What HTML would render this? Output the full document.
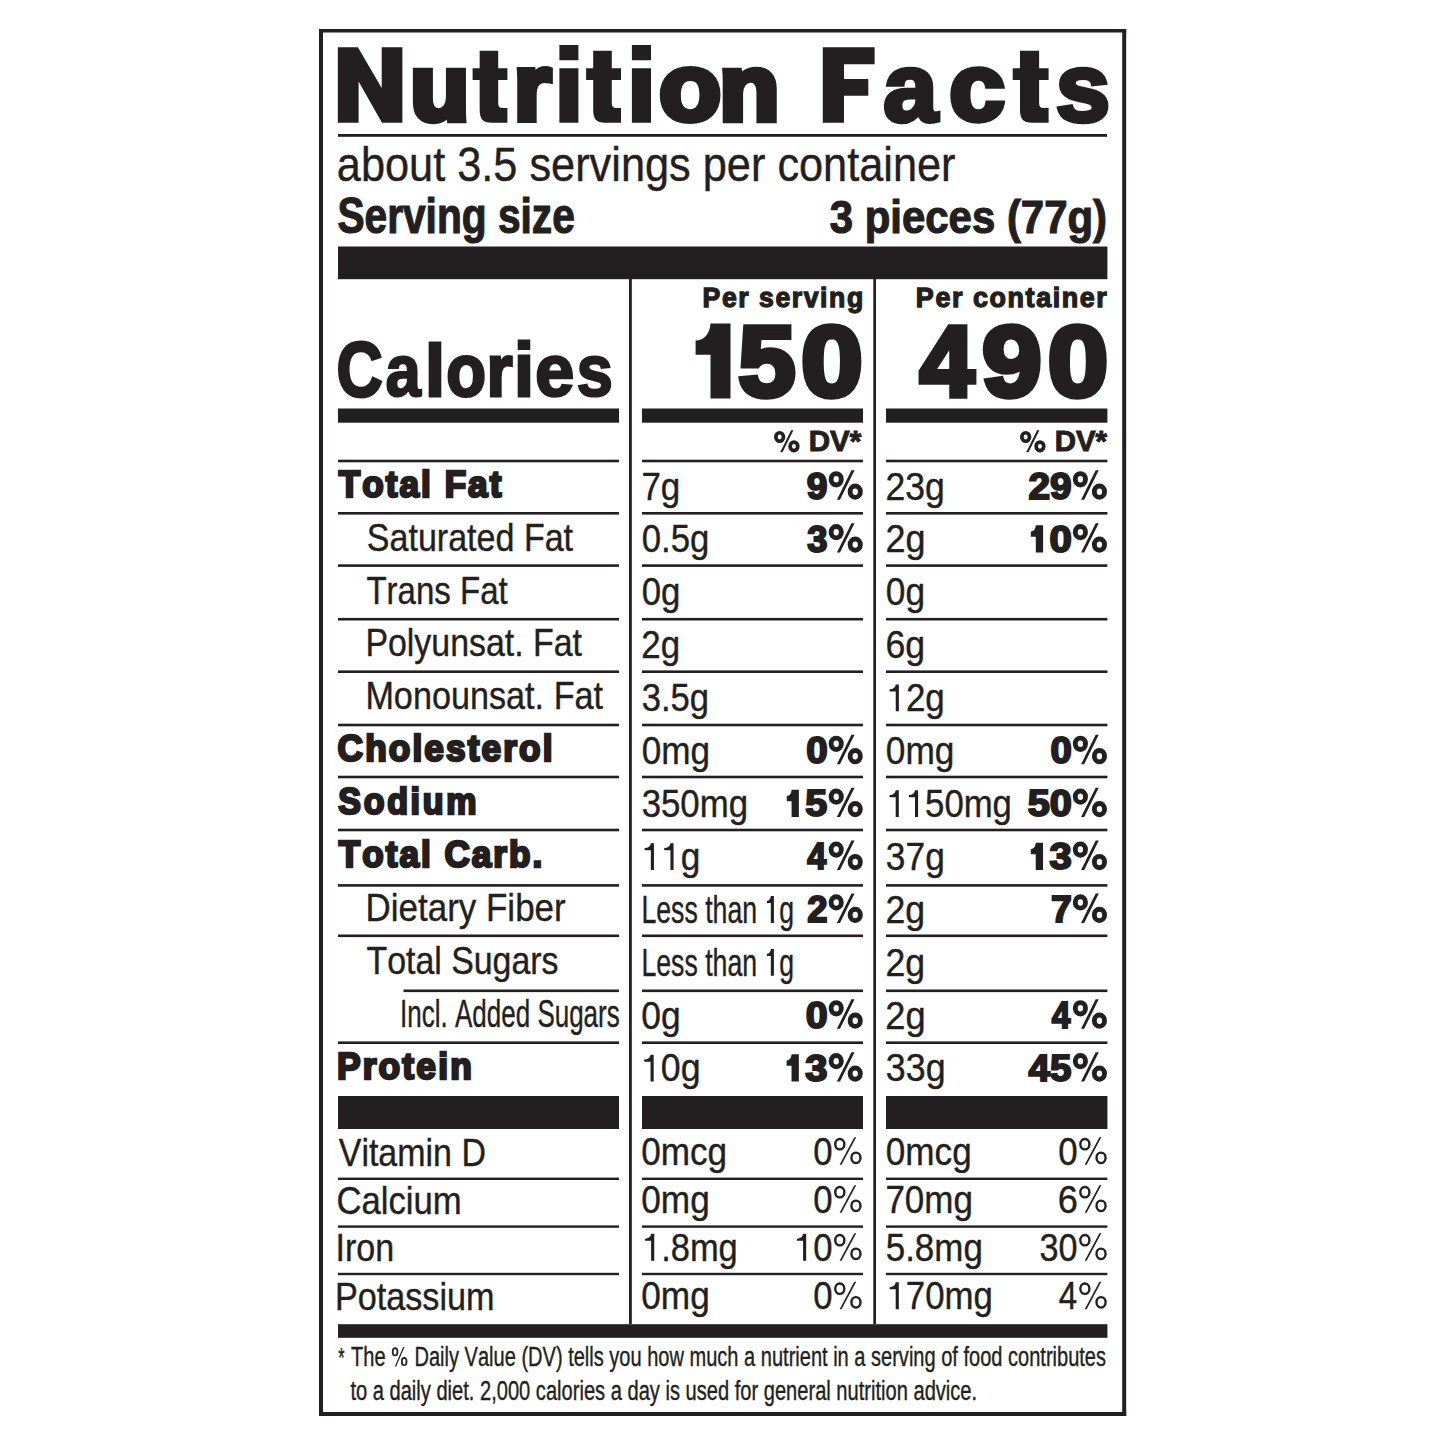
<!DOCTYPE html>
<html><head><meta charset="utf-8"><style>
html,body{margin:0;padding:0;background:#fff;width:1445px;height:1445px;overflow:hidden}
svg{display:block}
text{font-family:"Liberation Sans",sans-serif;font-kerning:none}
</style></head><body>
<svg width="1445" height="1445" viewBox="0 0 1445 1445">
<rect width="1445" height="1445" fill="#fff"/>
<g fill="#231f20">
<rect x="319" y="29" width="807.2" height="3.5"/>
<rect x="319" y="1412" width="807.2" height="4"/>
<rect x="319" y="29" width="4" height="1387"/>
<rect x="1122.2" y="29" width="4" height="1387"/>
<rect x="338" y="134" width="769" height="2.8"/>
<rect x="338" y="246.5" width="769.4" height="32.7"/>
<rect x="629" y="279" width="2.8" height="1045"/>
<rect x="873.3" y="279" width="2.7" height="1045"/>
<rect x="338" y="408.5" width="281" height="14.2"/>
<rect x="642" y="408.5" width="221" height="14.2"/>
<rect x="886" y="408.5" width="221.4" height="14.2"/>
<rect x="338" y="459.7" width="281" height="2.6"/>
<rect x="642" y="459.7" width="221" height="2.6"/>
<rect x="886" y="459.7" width="221.4" height="2.6"/>
<rect x="338" y="512" width="281" height="2.6"/>
<rect x="642" y="512" width="221" height="2.6"/>
<rect x="886" y="512" width="221.4" height="2.6"/>
<rect x="338" y="564.3" width="281" height="2.6"/>
<rect x="642" y="564.3" width="221" height="2.6"/>
<rect x="886" y="564.3" width="221.4" height="2.6"/>
<rect x="338" y="617.9" width="281" height="2.6"/>
<rect x="642" y="617.9" width="221" height="2.6"/>
<rect x="886" y="617.9" width="221.4" height="2.6"/>
<rect x="338" y="670.4" width="281" height="2.6"/>
<rect x="642" y="670.4" width="221" height="2.6"/>
<rect x="886" y="670.4" width="221.4" height="2.6"/>
<rect x="338" y="723.7" width="281" height="2.6"/>
<rect x="642" y="723.7" width="221" height="2.6"/>
<rect x="886" y="723.7" width="221.4" height="2.6"/>
<rect x="338" y="775.7" width="281" height="2.6"/>
<rect x="642" y="775.7" width="221" height="2.6"/>
<rect x="886" y="775.7" width="221.4" height="2.6"/>
<rect x="338" y="828.7" width="281" height="2.6"/>
<rect x="642" y="828.7" width="221" height="2.6"/>
<rect x="886" y="828.7" width="221.4" height="2.6"/>
<rect x="338" y="884.1" width="281" height="2.6"/>
<rect x="642" y="884.1" width="221" height="2.6"/>
<rect x="886" y="884.1" width="221.4" height="2.6"/>
<rect x="338" y="934.5" width="281" height="2.6"/>
<rect x="642" y="934.5" width="221" height="2.6"/>
<rect x="886" y="934.5" width="221.4" height="2.6"/>
<rect x="403.5" y="989.5" width="215.5" height="2.6"/>
<rect x="642" y="989.5" width="221" height="2.6"/>
<rect x="886" y="989.5" width="221.4" height="2.6"/>
<rect x="338" y="1041.4" width="281" height="2.6"/>
<rect x="642" y="1041.4" width="221" height="2.6"/>
<rect x="886" y="1041.4" width="221.4" height="2.6"/>
<rect x="338" y="1096" width="281" height="33"/>
<rect x="642" y="1096" width="221" height="33"/>
<rect x="886" y="1096" width="221.4" height="33"/>
<rect x="338" y="1177.6" width="281" height="2.4"/>
<rect x="642" y="1177.6" width="221" height="2.4"/>
<rect x="886" y="1177.6" width="221.4" height="2.4"/>
<rect x="338" y="1225.4" width="281" height="2.4"/>
<rect x="642" y="1225.4" width="221" height="2.4"/>
<rect x="886" y="1225.4" width="221.4" height="2.4"/>
<rect x="338" y="1272.8" width="281" height="2.4"/>
<rect x="642" y="1272.8" width="221" height="2.4"/>
<rect x="886" y="1272.8" width="221.4" height="2.4"/>
<rect x="338" y="1324.2" width="769.4" height="13.6"/>
<path d="M337.8 47.2H357.9L381.7 87.9V47.2H402.4V122.8H382L358.6 81.4V122.8H337.8Z"/>
<path d="M822.8 47.2H874.6V64.3H844V79.1H868.3V95.7H844V122.8H822.8Z"/>
<path d="M479.66 50.8H498.21V68.2H507.4V79.9H498.21V103.5C498.21 106.8 499.71 108.1 502.71 108.1H507.4V122.8H491.66C482.66 122.8 479.66 118.8 479.66 109.8V79.9H472.6V68.2H479.66Z"/>
<path d="M593.18 50.8H611.79V68.2H621V79.9H611.79V103.5C611.79 106.8 613.29 108.1 616.29 108.1H621V122.8H605.18C596.18 122.8 593.18 118.8 593.18 109.8V79.9H586.1V68.2H593.18Z"/>
<path d="M1019.99 50.8H1039.12V68.2H1048.6V79.9H1039.12V103.5C1039.12 106.8 1040.62 108.1 1043.62 108.1H1048.6V122.8H1031.99C1022.99 122.8 1019.99 118.8 1019.99 109.8V79.9H1012.7V68.2H1019.99Z"/>
<path d="M559.4 45.1H578.4V60.3H559.4ZM559.4 68.2H578.4V122.8H559.4Z"/>
<path d="M631.9 45.1H651V60.3H631.9ZM631.9 68.2H651V122.8H631.9Z"/>
<text x="410.25" y="119.95" font-size="92.75" font-weight="bold" textLength="59.07" lengthAdjust="spacingAndGlyphs" stroke="#231f20" stroke-width="6.5">u</text>
<text x="513.5" y="120.2" font-size="94.51" font-weight="bold" textLength="37.77" lengthAdjust="spacingAndGlyphs" stroke="#231f20" stroke-width="6">r</text>
<text x="659.02" y="120.2" font-size="94.59" font-weight="bold" textLength="62.26" lengthAdjust="spacingAndGlyphs" stroke="#231f20" stroke-width="6">o</text>
<text x="719.35" y="119.95" font-size="93.02" font-weight="bold" textLength="60.21" lengthAdjust="spacingAndGlyphs" stroke="#231f20" stroke-width="6.5">n</text>
<text x="883.19" y="120.95" font-size="96.82" font-weight="bold" textLength="54.34" lengthAdjust="spacingAndGlyphs" stroke="#231f20" stroke-width="4.5">a</text>
<text x="949.34" y="120.45" font-size="94.97" font-weight="bold" textLength="55.64" lengthAdjust="spacingAndGlyphs" stroke="#231f20" stroke-width="5.5">c</text>
<text x="1055.81" y="120.95" font-size="96.74" font-weight="bold" textLength="54.46" lengthAdjust="spacingAndGlyphs" stroke="#231f20" stroke-width="4.5">s</text>
<text x="336.86" y="181" font-size="48.11" textLength="108.36" lengthAdjust="spacingAndGlyphs" stroke="#231f20" stroke-width="0.4">about</text>
<text x="457.26" y="181" font-size="48.11" textLength="60.2" lengthAdjust="spacingAndGlyphs" stroke="#231f20" stroke-width="0.4">3.5</text>
<text x="529.48" y="181" font-size="48.11" textLength="161.25" lengthAdjust="spacingAndGlyphs" stroke="#231f20" stroke-width="0.4">servings</text>
<text x="702.76" y="181" font-size="48.11" textLength="62.59" lengthAdjust="spacingAndGlyphs" stroke="#231f20" stroke-width="0.4">per</text>
<text x="777.38" y="181" font-size="48.11" textLength="178.14" lengthAdjust="spacingAndGlyphs" stroke="#231f20" stroke-width="0.4">container</text>
<text x="337.43" y="233" font-size="49.13" font-weight="bold" textLength="149.19" lengthAdjust="spacingAndGlyphs" stroke="#231f20" stroke-width="1.2">Serving</text>
<text x="497.91" y="233" font-size="49.13" font-weight="bold" textLength="76.88" lengthAdjust="spacingAndGlyphs" stroke="#231f20" stroke-width="1.2">size</text>
<text x="829.84" y="233.2" font-size="46.95" font-weight="bold" textLength="23.3" lengthAdjust="spacingAndGlyphs" stroke="#231f20" stroke-width="1.2">3</text>
<text x="864.78" y="233.2" font-size="46.95" font-weight="bold" textLength="130.45" lengthAdjust="spacingAndGlyphs" stroke="#231f20" stroke-width="1.2">pieces</text>
<text x="1006.88" y="233.2" font-size="46.95" font-weight="bold" textLength="100.11" lengthAdjust="spacingAndGlyphs" stroke="#231f20" stroke-width="1.2">(77g)</text>
<text x="702.57" y="307.15" font-size="27.47" font-weight="bold" textLength="17.74" lengthAdjust="spacingAndGlyphs" stroke="#231f20" stroke-width="1.3">P</text>
<text x="721.88" y="307.15" font-size="27.47" font-weight="bold" textLength="14.79" lengthAdjust="spacingAndGlyphs" stroke="#231f20" stroke-width="1.3">e</text>
<text x="738.24" y="307.15" font-size="27.47" font-weight="bold" textLength="10.35" lengthAdjust="spacingAndGlyphs" stroke="#231f20" stroke-width="1.3">r</text>
<text x="759.12" y="307.15" font-size="27.47" font-weight="bold" textLength="14.79" lengthAdjust="spacingAndGlyphs" stroke="#231f20" stroke-width="1.3">s</text>
<text x="775.47" y="307.15" font-size="27.47" font-weight="bold" textLength="14.79" lengthAdjust="spacingAndGlyphs" stroke="#231f20" stroke-width="1.3">e</text>
<text x="791.83" y="307.15" font-size="27.47" font-weight="bold" textLength="10.35" lengthAdjust="spacingAndGlyphs" stroke="#231f20" stroke-width="1.3">r</text>
<text x="803.75" y="307.15" font-size="27.47" font-weight="bold" textLength="14.79" lengthAdjust="spacingAndGlyphs" stroke="#231f20" stroke-width="1.3">v</text>
<text x="820.11" y="307.15" font-size="27.47" font-weight="bold" textLength="7.39" lengthAdjust="spacingAndGlyphs" stroke="#231f20" stroke-width="1.3">i</text>
<text x="829.07" y="307.15" font-size="27.47" font-weight="bold" textLength="16.24" lengthAdjust="spacingAndGlyphs" stroke="#231f20" stroke-width="1.3">n</text>
<text x="846.88" y="307.15" font-size="27.47" font-weight="bold" textLength="16.24" lengthAdjust="spacingAndGlyphs" stroke="#231f20" stroke-width="1.3">g</text>
<text x="915.85" y="307.15" font-size="27.47" font-weight="bold" textLength="17.95" lengthAdjust="spacingAndGlyphs" stroke="#231f20" stroke-width="1.3">P</text>
<text x="935.38" y="307.15" font-size="27.47" font-weight="bold" textLength="14.97" lengthAdjust="spacingAndGlyphs" stroke="#231f20" stroke-width="1.3">e</text>
<text x="951.92" y="307.15" font-size="27.47" font-weight="bold" textLength="10.48" lengthAdjust="spacingAndGlyphs" stroke="#231f20" stroke-width="1.3">r</text>
<text x="973.02" y="307.15" font-size="27.47" font-weight="bold" textLength="14.97" lengthAdjust="spacingAndGlyphs" stroke="#231f20" stroke-width="1.3">c</text>
<text x="989.56" y="307.15" font-size="27.47" font-weight="bold" textLength="16.44" lengthAdjust="spacingAndGlyphs" stroke="#231f20" stroke-width="1.3">o</text>
<text x="1007.58" y="307.15" font-size="27.47" font-weight="bold" textLength="16.44" lengthAdjust="spacingAndGlyphs" stroke="#231f20" stroke-width="1.3">n</text>
<text x="1025.59" y="307.15" font-size="27.47" font-weight="bold" textLength="8.96" lengthAdjust="spacingAndGlyphs" stroke="#231f20" stroke-width="1.3">t</text>
<text x="1036.13" y="307.15" font-size="27.47" font-weight="bold" textLength="14.97" lengthAdjust="spacingAndGlyphs" stroke="#231f20" stroke-width="1.3">a</text>
<text x="1052.67" y="307.15" font-size="27.47" font-weight="bold" textLength="7.48" lengthAdjust="spacingAndGlyphs" stroke="#231f20" stroke-width="1.3">i</text>
<text x="1061.72" y="307.15" font-size="27.47" font-weight="bold" textLength="16.44" lengthAdjust="spacingAndGlyphs" stroke="#231f20" stroke-width="1.3">n</text>
<text x="1079.74" y="307.15" font-size="27.47" font-weight="bold" textLength="14.97" lengthAdjust="spacingAndGlyphs" stroke="#231f20" stroke-width="1.3">e</text>
<text x="1096.28" y="307.15" font-size="27.47" font-weight="bold" textLength="10.48" lengthAdjust="spacingAndGlyphs" stroke="#231f20" stroke-width="1.3">r</text>
<text x="336.38" y="395.9" font-size="78.05" font-weight="bold" textLength="46.17" lengthAdjust="spacingAndGlyphs" stroke="#231f20" stroke-width="2.8">C</text>
<text x="385.44" y="396.2" font-size="74.52" font-weight="bold" textLength="35.36" lengthAdjust="spacingAndGlyphs" stroke="#231f20" stroke-width="2.2">a</text>
<text x="425.06" y="395.9" font-size="72.45" font-weight="bold" textLength="20.05" lengthAdjust="spacingAndGlyphs" stroke="#231f20" stroke-width="2.8">l</text>
<text x="446.26" y="395.9" font-size="73.41" font-weight="bold" textLength="39.79" lengthAdjust="spacingAndGlyphs" stroke="#231f20" stroke-width="2.8">o</text>
<text x="486.47" y="395.9" font-size="73.34" font-weight="bold" textLength="26.15" lengthAdjust="spacingAndGlyphs" stroke="#231f20" stroke-width="2.8">r</text>
<text x="513.96" y="395.9" font-size="75.21" font-weight="bold" textLength="20.05" lengthAdjust="spacingAndGlyphs" stroke="#231f20" stroke-width="2.8">i</text>
<text x="535.08" y="396.15" font-size="74.34" font-weight="bold" textLength="39.39" lengthAdjust="spacingAndGlyphs" stroke="#231f20" stroke-width="2.3">e</text>
<text x="576.59" y="396.2" font-size="74.46" font-weight="bold" textLength="36.5" lengthAdjust="spacingAndGlyphs" stroke="#231f20" stroke-width="2.2">s</text>
<path d="M730.5 323.5L730.5 398.5L710.5 398.5L710.5 354.8L695.6 354.8L695.6 340.5C704.54 340.5 709.75 333.7 710.5 323.5Z"/>
<text x="738.18" y="395.75" font-size="100.29" font-weight="bold" textLength="57.34" lengthAdjust="spacingAndGlyphs" stroke="#231f20" stroke-width="5.5">5</text>
<text x="800.95" y="395.75" font-size="99.68" font-weight="bold" textLength="61.86" lengthAdjust="spacingAndGlyphs" stroke="#231f20" stroke-width="5.5">0</text>
<text x="919.87" y="395.75" font-size="100.29" font-weight="bold" textLength="54.51" lengthAdjust="spacingAndGlyphs" stroke="#231f20" stroke-width="5.5">4</text>
<text x="981.93" y="395.75" font-size="99.68" font-weight="bold" textLength="59.71" lengthAdjust="spacingAndGlyphs" stroke="#231f20" stroke-width="5.5">9</text>
<text x="1047.85" y="395.75" font-size="99.68" font-weight="bold" textLength="60.46" lengthAdjust="spacingAndGlyphs" stroke="#231f20" stroke-width="5.5">0</text>
<ellipse cx="779.67" cy="436.97" rx="3.83" ry="4.25" fill="none" stroke="#231f20" stroke-width="3.67"/>
<ellipse cx="793.95" cy="446.31" rx="3.83" ry="4.25" fill="none" stroke="#231f20" stroke-width="3.67"/>
<path d="M780.2 452.3L782.5 452.3L793.42 430.25L791.12 430.25Z"/>
<text x="808.72" y="451.4" font-size="28.92" font-weight="bold" textLength="52.5" lengthAdjust="spacingAndGlyphs" stroke="#231f20" stroke-width="1">DV*</text>
<ellipse cx="1025.67" cy="436.97" rx="3.83" ry="4.25" fill="none" stroke="#231f20" stroke-width="3.67"/>
<ellipse cx="1039.95" cy="446.31" rx="3.83" ry="4.25" fill="none" stroke="#231f20" stroke-width="3.67"/>
<path d="M1026.19 452.3L1028.5 452.3L1039.42 430.25L1037.12 430.25Z"/>
<text x="1054.73" y="451.4" font-size="28.92" font-weight="bold" textLength="52.3" lengthAdjust="spacingAndGlyphs" stroke="#231f20" stroke-width="1">DV*</text>
<text x="338.86" y="496.65" font-size="36.34" font-weight="bold" textLength="21.46" lengthAdjust="spacingAndGlyphs" stroke="#231f20" stroke-width="2.5">T</text>
<text x="362.33" y="496.65" font-size="36.34" font-weight="bold" textLength="21.46" lengthAdjust="spacingAndGlyphs" stroke="#231f20" stroke-width="2.5">o</text>
<text x="385.81" y="496.65" font-size="36.34" font-weight="bold" textLength="11.7" lengthAdjust="spacingAndGlyphs" stroke="#231f20" stroke-width="2.5">t</text>
<text x="399.53" y="496.65" font-size="36.34" font-weight="bold" textLength="19.54" lengthAdjust="spacingAndGlyphs" stroke="#231f20" stroke-width="2.5">a</text>
<text x="421.09" y="496.65" font-size="36.34" font-weight="bold" textLength="9.76" lengthAdjust="spacingAndGlyphs" stroke="#231f20" stroke-width="2.5">l</text>
<text x="444.65" y="496.65" font-size="36.34" font-weight="bold" textLength="21.46" lengthAdjust="spacingAndGlyphs" stroke="#231f20" stroke-width="2.5">F</text>
<text x="468.12" y="496.65" font-size="36.34" font-weight="bold" textLength="19.54" lengthAdjust="spacingAndGlyphs" stroke="#231f20" stroke-width="2.5">a</text>
<text x="489.68" y="496.65" font-size="36.34" font-weight="bold" textLength="11.7" lengthAdjust="spacingAndGlyphs" stroke="#231f20" stroke-width="2.5">t</text>
<text x="641.4" y="499.5" font-size="38.37" textLength="38.95" lengthAdjust="spacingAndGlyphs" stroke="#231f20" stroke-width="0.4">7g</text>
<text x="806.71" y="498.7" font-size="36.77" font-weight="bold" textLength="20.72" lengthAdjust="spacingAndGlyphs" stroke="#231f20" stroke-width="2">9</text>
<ellipse cx="836.2" cy="479.26" rx="5.11" ry="5.67" fill="none" stroke="#231f20" stroke-width="4.9"/>
<ellipse cx="855.24" cy="491.72" rx="5.11" ry="5.67" fill="none" stroke="#231f20" stroke-width="4.9"/>
<path d="M836.9 499.7L839.98 499.7L854.54 470.3L851.46 470.3Z"/>
<text x="885.41" y="499.5" font-size="38.37" textLength="59.38" lengthAdjust="spacingAndGlyphs" stroke="#231f20" stroke-width="0.4">23g</text>
<text x="1028.56" y="498.7" font-size="36.77" font-weight="bold" textLength="43.13" lengthAdjust="spacingAndGlyphs" stroke="#231f20" stroke-width="2">29</text>
<ellipse cx="1080.4" cy="479.26" rx="5.11" ry="5.67" fill="none" stroke="#231f20" stroke-width="4.9"/>
<ellipse cx="1099.44" cy="491.72" rx="5.11" ry="5.67" fill="none" stroke="#231f20" stroke-width="4.9"/>
<path d="M1081.1 499.7L1084.18 499.7L1098.74 470.3L1095.66 470.3Z"/>
<text x="366.85" y="550.6" font-size="39.39" textLength="147.57" lengthAdjust="spacingAndGlyphs" stroke="#231f20" stroke-width="0.4">Saturated</text>
<text x="523.88" y="550.6" font-size="39.39" textLength="49.17" lengthAdjust="spacingAndGlyphs" stroke="#231f20" stroke-width="0.4">Fat</text>
<text x="641.64" y="552.4" font-size="38.37" textLength="67.7" lengthAdjust="spacingAndGlyphs" stroke="#231f20" stroke-width="0.4">0.5g</text>
<text x="807.17" y="551.6" font-size="36.77" font-weight="bold" textLength="20.19" lengthAdjust="spacingAndGlyphs" stroke="#231f20" stroke-width="2">3</text>
<ellipse cx="836.2" cy="532.16" rx="5.11" ry="5.67" fill="none" stroke="#231f20" stroke-width="4.9"/>
<ellipse cx="855.24" cy="544.62" rx="5.11" ry="5.67" fill="none" stroke="#231f20" stroke-width="4.9"/>
<path d="M836.9 552.6L839.98 552.6L854.54 523.2L851.46 523.2Z"/>
<text x="885.39" y="552.4" font-size="38.37" textLength="40.03" lengthAdjust="spacingAndGlyphs" stroke="#231f20" stroke-width="0.4">2g</text>
<path d="M1043.1 525.3L1043.1 552.6L1035.81 552.6L1035.81 536.77L1030.8 536.77L1030.8 531.58C1033.81 531.58 1035.56 529.07 1035.81 525.3Z"/>
<text x="1049.54" y="551.6" font-size="36.77" font-weight="bold" textLength="22.36" lengthAdjust="spacingAndGlyphs" stroke="#231f20" stroke-width="2">0</text>
<ellipse cx="1080.4" cy="532.16" rx="5.11" ry="5.67" fill="none" stroke="#231f20" stroke-width="4.9"/>
<ellipse cx="1099.44" cy="544.62" rx="5.11" ry="5.67" fill="none" stroke="#231f20" stroke-width="4.9"/>
<path d="M1081.1 552.6L1084.18 552.6L1098.74 523.2L1095.66 523.2Z"/>
<text x="366.46" y="603.5" font-size="39.39" textLength="84.4" lengthAdjust="spacingAndGlyphs" stroke="#231f20" stroke-width="0.4">Trans</text>
<text x="460.03" y="603.5" font-size="39.39" textLength="47.71" lengthAdjust="spacingAndGlyphs" stroke="#231f20" stroke-width="0.4">Fat</text>
<text x="641.64" y="605.3" font-size="38.37" textLength="38.7" lengthAdjust="spacingAndGlyphs" stroke="#231f20" stroke-width="0.4">0g</text>
<text x="885.82" y="605.3" font-size="38.37" textLength="39.25" lengthAdjust="spacingAndGlyphs" stroke="#231f20" stroke-width="0.4">0g</text>
<text x="365.42" y="656.4" font-size="39.39" textLength="158.17" lengthAdjust="spacingAndGlyphs" stroke="#231f20" stroke-width="0.4">Polyunsat.</text>
<text x="533.01" y="656.4" font-size="39.39" textLength="48.94" lengthAdjust="spacingAndGlyphs" stroke="#231f20" stroke-width="0.4">Fat</text>
<text x="641.25" y="658.2" font-size="38.37" textLength="38.8" lengthAdjust="spacingAndGlyphs" stroke="#231f20" stroke-width="0.4">2g</text>
<text x="885.39" y="658.2" font-size="38.37" textLength="39.71" lengthAdjust="spacingAndGlyphs" stroke="#231f20" stroke-width="0.4">6g</text>
<text x="365.39" y="709.3" font-size="39.39" textLength="178.73" lengthAdjust="spacingAndGlyphs" stroke="#231f20" stroke-width="0.4">Monounsat.</text>
<text x="553.63" y="709.3" font-size="39.39" textLength="49.42" lengthAdjust="spacingAndGlyphs" stroke="#231f20" stroke-width="0.4">Fat</text>
<text x="641.68" y="711.1" font-size="38.37" textLength="67.35" lengthAdjust="spacingAndGlyphs" stroke="#231f20" stroke-width="0.4">3.5g</text>
<path d="M898.86 684.5L898.86 711.3L895.75 711.3L895.75 691.47L889.6 691.47L889.6 689.32C893.29 689.32 895.44 687.39 895.75 684.5Z"/>
<text x="905.89" y="711.1" font-size="38.37" textLength="38.86" lengthAdjust="spacingAndGlyphs" stroke="#231f20" stroke-width="0.4">2g</text>
<text x="337.6" y="761.15" font-size="36.34" font-weight="bold" textLength="25.45" lengthAdjust="spacingAndGlyphs" stroke="#231f20" stroke-width="2.5">C</text>
<text x="365.16" y="761.15" font-size="36.34" font-weight="bold" textLength="21.52" lengthAdjust="spacingAndGlyphs" stroke="#231f20" stroke-width="2.5">h</text>
<text x="388.8" y="761.15" font-size="36.34" font-weight="bold" textLength="21.52" lengthAdjust="spacingAndGlyphs" stroke="#231f20" stroke-width="2.5">o</text>
<text x="412.43" y="761.15" font-size="36.34" font-weight="bold" textLength="9.79" lengthAdjust="spacingAndGlyphs" stroke="#231f20" stroke-width="2.5">l</text>
<text x="424.33" y="761.15" font-size="36.34" font-weight="bold" textLength="19.6" lengthAdjust="spacingAndGlyphs" stroke="#231f20" stroke-width="2.5">e</text>
<text x="446.04" y="761.15" font-size="36.34" font-weight="bold" textLength="19.6" lengthAdjust="spacingAndGlyphs" stroke="#231f20" stroke-width="2.5">s</text>
<text x="467.75" y="761.15" font-size="36.34" font-weight="bold" textLength="11.73" lengthAdjust="spacingAndGlyphs" stroke="#231f20" stroke-width="2.5">t</text>
<text x="481.59" y="761.15" font-size="36.34" font-weight="bold" textLength="19.6" lengthAdjust="spacingAndGlyphs" stroke="#231f20" stroke-width="2.5">e</text>
<text x="503.3" y="761.15" font-size="36.34" font-weight="bold" textLength="13.71" lengthAdjust="spacingAndGlyphs" stroke="#231f20" stroke-width="2.5">r</text>
<text x="519.12" y="761.15" font-size="36.34" font-weight="bold" textLength="21.52" lengthAdjust="spacingAndGlyphs" stroke="#231f20" stroke-width="2.5">o</text>
<text x="542.75" y="761.15" font-size="36.34" font-weight="bold" textLength="9.79" lengthAdjust="spacingAndGlyphs" stroke="#231f20" stroke-width="2.5">l</text>
<text x="641.63" y="764" font-size="38.37" textLength="68.34" lengthAdjust="spacingAndGlyphs" stroke="#231f20" stroke-width="0.4">0mg</text>
<text x="806.17" y="763.2" font-size="36.77" font-weight="bold" textLength="21.45" lengthAdjust="spacingAndGlyphs" stroke="#231f20" stroke-width="2">0</text>
<ellipse cx="836.2" cy="743.76" rx="5.11" ry="5.67" fill="none" stroke="#231f20" stroke-width="4.9"/>
<ellipse cx="855.24" cy="756.22" rx="5.11" ry="5.67" fill="none" stroke="#231f20" stroke-width="4.9"/>
<path d="M836.9 764.2L839.98 764.2L854.54 734.8L851.46 734.8Z"/>
<text x="885.82" y="764" font-size="38.37" textLength="68.55" lengthAdjust="spacingAndGlyphs" stroke="#231f20" stroke-width="0.4">0mg</text>
<text x="1050.48" y="763.2" font-size="36.77" font-weight="bold" textLength="21.33" lengthAdjust="spacingAndGlyphs" stroke="#231f20" stroke-width="2">0</text>
<ellipse cx="1080.4" cy="743.76" rx="5.11" ry="5.67" fill="none" stroke="#231f20" stroke-width="4.9"/>
<ellipse cx="1099.44" cy="756.22" rx="5.11" ry="5.67" fill="none" stroke="#231f20" stroke-width="4.9"/>
<path d="M1081.1 764.2L1084.18 764.2L1098.74 734.8L1095.66 734.8Z"/>
<text x="338.27" y="814.05" font-size="36.34" font-weight="bold" textLength="22.68" lengthAdjust="spacingAndGlyphs" stroke="#231f20" stroke-width="2.5">S</text>
<text x="363.65" y="814.05" font-size="36.34" font-weight="bold" textLength="20.77" lengthAdjust="spacingAndGlyphs" stroke="#231f20" stroke-width="2.5">o</text>
<text x="387.13" y="814.05" font-size="36.34" font-weight="bold" textLength="20.77" lengthAdjust="spacingAndGlyphs" stroke="#231f20" stroke-width="2.5">d</text>
<text x="410.6" y="814.05" font-size="36.34" font-weight="bold" textLength="9.45" lengthAdjust="spacingAndGlyphs" stroke="#231f20" stroke-width="2.5">i</text>
<text x="422.75" y="814.05" font-size="36.34" font-weight="bold" textLength="20.77" lengthAdjust="spacingAndGlyphs" stroke="#231f20" stroke-width="2.5">u</text>
<text x="446.22" y="814.05" font-size="36.34" font-weight="bold" textLength="30.24" lengthAdjust="spacingAndGlyphs" stroke="#231f20" stroke-width="2.5">m</text>
<text x="641.68" y="816.9" font-size="38.37" textLength="106.37" lengthAdjust="spacingAndGlyphs" stroke="#231f20" stroke-width="0.4">350mg</text>
<path d="M798.88 789.8L798.88 817.1L791.59 817.1L791.59 801.27L786.8 801.27L786.8 796.08C789.67 796.08 791.35 793.57 791.59 789.8Z"/>
<text x="805.2" y="816.1" font-size="36.77" font-weight="bold" textLength="21.95" lengthAdjust="spacingAndGlyphs" stroke="#231f20" stroke-width="2">5</text>
<ellipse cx="836.2" cy="796.66" rx="5.11" ry="5.67" fill="none" stroke="#231f20" stroke-width="4.9"/>
<ellipse cx="855.24" cy="809.12" rx="5.11" ry="5.67" fill="none" stroke="#231f20" stroke-width="4.9"/>
<path d="M836.9 817.1L839.98 817.1L854.54 787.7L851.46 787.7Z"/>
<path d="M898.8 790.3L898.8 817.1L895.69 817.1L895.69 797.27L889.6 797.27L889.6 795.12C893.25 795.12 895.39 793.19 895.69 790.3Z"/>
<path d="M918.11 790.3L918.11 817.1L915 817.1L915 797.27L908.91 797.27L908.91 795.12C912.56 795.12 914.7 793.19 915 790.3Z"/>
<text x="925.09" y="816.9" font-size="38.37" textLength="86.85" lengthAdjust="spacingAndGlyphs" stroke="#231f20" stroke-width="0.4">50mg</text>
<text x="1027.68" y="816.1" font-size="36.77" font-weight="bold" textLength="44.2" lengthAdjust="spacingAndGlyphs" stroke="#231f20" stroke-width="2">50</text>
<ellipse cx="1080.4" cy="796.66" rx="5.11" ry="5.67" fill="none" stroke="#231f20" stroke-width="4.9"/>
<ellipse cx="1099.44" cy="809.12" rx="5.11" ry="5.67" fill="none" stroke="#231f20" stroke-width="4.9"/>
<path d="M1081.1 817.1L1084.18 817.1L1098.74 787.7L1095.66 787.7Z"/>
<text x="338.86" y="866.95" font-size="36.34" font-weight="bold" textLength="21.43" lengthAdjust="spacingAndGlyphs" stroke="#231f20" stroke-width="2.5">T</text>
<text x="362.29" y="866.95" font-size="36.34" font-weight="bold" textLength="21.43" lengthAdjust="spacingAndGlyphs" stroke="#231f20" stroke-width="2.5">o</text>
<text x="385.73" y="866.95" font-size="36.34" font-weight="bold" textLength="11.69" lengthAdjust="spacingAndGlyphs" stroke="#231f20" stroke-width="2.5">t</text>
<text x="399.42" y="866.95" font-size="36.34" font-weight="bold" textLength="19.52" lengthAdjust="spacingAndGlyphs" stroke="#231f20" stroke-width="2.5">a</text>
<text x="420.94" y="866.95" font-size="36.34" font-weight="bold" textLength="9.75" lengthAdjust="spacingAndGlyphs" stroke="#231f20" stroke-width="2.5">l</text>
<text x="444.45" y="866.95" font-size="36.34" font-weight="bold" textLength="25.34" lengthAdjust="spacingAndGlyphs" stroke="#231f20" stroke-width="2.5">C</text>
<text x="471.8" y="866.95" font-size="36.34" font-weight="bold" textLength="19.52" lengthAdjust="spacingAndGlyphs" stroke="#231f20" stroke-width="2.5">a</text>
<text x="493.32" y="866.95" font-size="36.34" font-weight="bold" textLength="13.66" lengthAdjust="spacingAndGlyphs" stroke="#231f20" stroke-width="2.5">r</text>
<text x="508.98" y="866.95" font-size="36.34" font-weight="bold" textLength="21.43" lengthAdjust="spacingAndGlyphs" stroke="#231f20" stroke-width="2.5">b</text>
<text x="532.42" y="866.95" font-size="36.34" font-weight="bold" textLength="9.75" lengthAdjust="spacingAndGlyphs" stroke="#231f20" stroke-width="2.5">.</text>
<path d="M653.95 843.2L653.95 870L650.84 870L650.84 850.17L644.6 850.17L644.6 848.02C648.34 848.02 650.53 846.09 650.84 843.2Z"/>
<path d="M673.56 843.2L673.56 870L670.45 870L670.45 850.17L664.22 850.17L664.22 848.02C667.96 848.02 670.14 846.09 670.45 843.2Z"/>
<text x="680.66" y="869.8" font-size="38.37" textLength="19.62" lengthAdjust="spacingAndGlyphs" stroke="#231f20" stroke-width="0.4">g</text>
<text x="807.18" y="869" font-size="36.77" font-weight="bold" textLength="19.05" lengthAdjust="spacingAndGlyphs" stroke="#231f20" stroke-width="2">4</text>
<ellipse cx="836.2" cy="849.56" rx="5.11" ry="5.67" fill="none" stroke="#231f20" stroke-width="4.9"/>
<ellipse cx="855.24" cy="862.02" rx="5.11" ry="5.67" fill="none" stroke="#231f20" stroke-width="4.9"/>
<path d="M836.9 870L839.98 870L854.54 840.6L851.46 840.6Z"/>
<text x="885.86" y="869.8" font-size="38.37" textLength="58.92" lengthAdjust="spacingAndGlyphs" stroke="#231f20" stroke-width="0.4">37g</text>
<path d="M1043.04 842.7L1043.04 870L1035.75 870L1035.75 854.17L1030.8 854.17L1030.8 848.98C1033.77 848.98 1035.5 846.47 1035.75 842.7Z"/>
<text x="1049.44" y="869" font-size="36.77" font-weight="bold" textLength="22.24" lengthAdjust="spacingAndGlyphs" stroke="#231f20" stroke-width="2">3</text>
<ellipse cx="1080.4" cy="849.56" rx="5.11" ry="5.67" fill="none" stroke="#231f20" stroke-width="4.9"/>
<ellipse cx="1099.44" cy="862.02" rx="5.11" ry="5.67" fill="none" stroke="#231f20" stroke-width="4.9"/>
<path d="M1081.1 870L1084.18 870L1098.74 840.6L1095.66 840.6Z"/>
<text x="365.53" y="920.9" font-size="39.39" textLength="110.76" lengthAdjust="spacingAndGlyphs" stroke="#231f20" stroke-width="0.4">Dietary</text>
<text x="486.01" y="920.9" font-size="39.39" textLength="79.67" lengthAdjust="spacingAndGlyphs" stroke="#231f20" stroke-width="0.4">Fiber</text>
<text x="641.41" y="922.7" font-size="38.37" textLength="56.33" lengthAdjust="spacingAndGlyphs" stroke="#231f20" stroke-width="0.4">Less</text>
<text x="705.15" y="922.7" font-size="38.37" textLength="51.9" lengthAdjust="spacingAndGlyphs" stroke="#231f20" stroke-width="0.4">than</text>
<path d="M773.92 896.1L773.92 922.9L770.82 922.9L770.82 903.07L766.86 903.07L766.86 900.92C769.23 900.92 770.62 898.99 770.82 896.1Z"/>
<text x="779.29" y="922.7" font-size="38.37" textLength="14.83" lengthAdjust="spacingAndGlyphs" stroke="#231f20" stroke-width="0.4">g</text>
<text x="807.24" y="921.9" font-size="36.77" font-weight="bold" textLength="20.27" lengthAdjust="spacingAndGlyphs" stroke="#231f20" stroke-width="2">2</text>
<ellipse cx="836.2" cy="902.46" rx="5.11" ry="5.67" fill="none" stroke="#231f20" stroke-width="4.9"/>
<ellipse cx="855.24" cy="914.92" rx="5.11" ry="5.67" fill="none" stroke="#231f20" stroke-width="4.9"/>
<path d="M836.9 922.9L839.98 922.9L854.54 893.5L851.46 893.5Z"/>
<text x="885.41" y="922.7" font-size="38.37" textLength="39.69" lengthAdjust="spacingAndGlyphs" stroke="#231f20" stroke-width="0.4">2g</text>
<text x="1051.09" y="921.9" font-size="36.77" font-weight="bold" textLength="20.79" lengthAdjust="spacingAndGlyphs" stroke="#231f20" stroke-width="2">7</text>
<ellipse cx="1080.4" cy="902.46" rx="5.11" ry="5.67" fill="none" stroke="#231f20" stroke-width="4.9"/>
<ellipse cx="1099.44" cy="914.92" rx="5.11" ry="5.67" fill="none" stroke="#231f20" stroke-width="4.9"/>
<path d="M1081.1 922.9L1084.18 922.9L1098.74 893.5L1095.66 893.5Z"/>
<text x="366.44" y="973.8" font-size="39.39" textLength="75.32" lengthAdjust="spacingAndGlyphs" stroke="#231f20" stroke-width="0.4">Total</text>
<text x="451.17" y="973.8" font-size="39.39" textLength="107.35" lengthAdjust="spacingAndGlyphs" stroke="#231f20" stroke-width="0.4">Sugars</text>
<text x="641.41" y="975.6" font-size="38.37" textLength="56.33" lengthAdjust="spacingAndGlyphs" stroke="#231f20" stroke-width="0.4">Less</text>
<text x="705.15" y="975.6" font-size="38.37" textLength="51.9" lengthAdjust="spacingAndGlyphs" stroke="#231f20" stroke-width="0.4">than</text>
<path d="M773.92 949L773.92 975.8L770.82 975.8L770.82 955.97L766.86 955.97L766.86 953.82C769.23 953.82 770.62 951.89 770.82 949Z"/>
<text x="779.29" y="975.6" font-size="38.37" textLength="14.83" lengthAdjust="spacingAndGlyphs" stroke="#231f20" stroke-width="0.4">g</text>
<text x="885.41" y="975.6" font-size="38.37" textLength="39.69" lengthAdjust="spacingAndGlyphs" stroke="#231f20" stroke-width="0.4">2g</text>
<text x="400.1" y="1026.7" font-size="39.39" textLength="47.67" lengthAdjust="spacingAndGlyphs" stroke="#231f20" stroke-width="0.4">Incl.</text>
<text x="454.99" y="1026.7" font-size="39.39" textLength="75.16" lengthAdjust="spacingAndGlyphs" stroke="#231f20" stroke-width="0.4">Added</text>
<text x="537.38" y="1026.7" font-size="39.39" textLength="82.36" lengthAdjust="spacingAndGlyphs" stroke="#231f20" stroke-width="0.4">Sugars</text>
<text x="641.22" y="1028.5" font-size="38.37" textLength="39.36" lengthAdjust="spacingAndGlyphs" stroke="#231f20" stroke-width="0.4">0g</text>
<text x="805.74" y="1027.7" font-size="36.77" font-weight="bold" textLength="21.92" lengthAdjust="spacingAndGlyphs" stroke="#231f20" stroke-width="2">0</text>
<ellipse cx="836.2" cy="1008.26" rx="5.11" ry="5.67" fill="none" stroke="#231f20" stroke-width="4.9"/>
<ellipse cx="855.24" cy="1020.72" rx="5.11" ry="5.67" fill="none" stroke="#231f20" stroke-width="4.9"/>
<path d="M836.9 1028.7L839.98 1028.7L854.54 999.3L851.46 999.3Z"/>
<text x="885.27" y="1028.5" font-size="38.37" textLength="40.36" lengthAdjust="spacingAndGlyphs" stroke="#231f20" stroke-width="0.4">2g</text>
<text x="1051.79" y="1027.7" font-size="36.77" font-weight="bold" textLength="18.63" lengthAdjust="spacingAndGlyphs" stroke="#231f20" stroke-width="2">4</text>
<ellipse cx="1080.4" cy="1008.26" rx="5.11" ry="5.67" fill="none" stroke="#231f20" stroke-width="4.9"/>
<ellipse cx="1099.44" cy="1020.72" rx="5.11" ry="5.67" fill="none" stroke="#231f20" stroke-width="4.9"/>
<path d="M1081.1 1028.7L1084.18 1028.7L1098.74 999.3L1095.66 999.3Z"/>
<text x="336.88" y="1078.55" font-size="36.34" font-weight="bold" textLength="23.59" lengthAdjust="spacingAndGlyphs" stroke="#231f20" stroke-width="2.5">P</text>
<text x="362.64" y="1078.55" font-size="36.34" font-weight="bold" textLength="13.76" lengthAdjust="spacingAndGlyphs" stroke="#231f20" stroke-width="2.5">r</text>
<text x="378.58" y="1078.55" font-size="36.34" font-weight="bold" textLength="21.6" lengthAdjust="spacingAndGlyphs" stroke="#231f20" stroke-width="2.5">o</text>
<text x="402.35" y="1078.55" font-size="36.34" font-weight="bold" textLength="11.78" lengthAdjust="spacingAndGlyphs" stroke="#231f20" stroke-width="2.5">t</text>
<text x="416.3" y="1078.55" font-size="36.34" font-weight="bold" textLength="19.67" lengthAdjust="spacingAndGlyphs" stroke="#231f20" stroke-width="2.5">e</text>
<text x="438.14" y="1078.55" font-size="36.34" font-weight="bold" textLength="9.83" lengthAdjust="spacingAndGlyphs" stroke="#231f20" stroke-width="2.5">i</text>
<text x="450.14" y="1078.55" font-size="36.34" font-weight="bold" textLength="21.6" lengthAdjust="spacingAndGlyphs" stroke="#231f20" stroke-width="2.5">n</text>
<path d="M653.67 1054.8L653.67 1081.6L650.56 1081.6L650.56 1061.77L644.2 1061.77L644.2 1059.62C648.02 1059.62 650.24 1057.69 650.56 1054.8Z"/>
<text x="660.86" y="1081.4" font-size="38.37" textLength="39.75" lengthAdjust="spacingAndGlyphs" stroke="#231f20" stroke-width="0.4">0g</text>
<path d="M798.84 1054.3L798.84 1081.6L791.55 1081.6L791.55 1065.77L786.6 1065.77L786.6 1060.58C789.57 1060.58 791.3 1058.07 791.55 1054.3Z"/>
<text x="805.24" y="1080.6" font-size="36.77" font-weight="bold" textLength="22.24" lengthAdjust="spacingAndGlyphs" stroke="#231f20" stroke-width="2">3</text>
<ellipse cx="836.2" cy="1061.16" rx="5.11" ry="5.67" fill="none" stroke="#231f20" stroke-width="4.9"/>
<ellipse cx="855.24" cy="1073.62" rx="5.11" ry="5.67" fill="none" stroke="#231f20" stroke-width="4.9"/>
<path d="M836.9 1081.6L839.98 1081.6L854.54 1052.2L851.46 1052.2Z"/>
<text x="885.84" y="1081.4" font-size="38.37" textLength="59.77" lengthAdjust="spacingAndGlyphs" stroke="#231f20" stroke-width="0.4">33g</text>
<text x="1028.52" y="1080.6" font-size="36.77" font-weight="bold" textLength="42.8" lengthAdjust="spacingAndGlyphs" stroke="#231f20" stroke-width="2">45</text>
<ellipse cx="1080.4" cy="1061.16" rx="5.11" ry="5.67" fill="none" stroke="#231f20" stroke-width="4.9"/>
<ellipse cx="1099.44" cy="1073.62" rx="5.11" ry="5.67" fill="none" stroke="#231f20" stroke-width="4.9"/>
<path d="M1081.1 1081.6L1084.18 1081.6L1098.74 1052.2L1095.66 1052.2Z"/>
<text x="338.75" y="1166" font-size="38.66" textLength="113.22" lengthAdjust="spacingAndGlyphs" stroke="#231f20" stroke-width="0.4">Vitamin</text>
<text x="461.4" y="1166" font-size="38.66" textLength="24.52" lengthAdjust="spacingAndGlyphs" stroke="#231f20" stroke-width="0.4">D</text>
<text x="641.23" y="1164.5" font-size="38.52" textLength="85.94" lengthAdjust="spacingAndGlyphs" stroke="#231f20" stroke-width="0.4">0mcg</text>
<text x="813.14" y="1164.5" font-size="38.52" textLength="19.3" lengthAdjust="spacingAndGlyphs" stroke="#231f20" stroke-width="0.4">0</text>
<ellipse cx="839.78" cy="1144.15" rx="4.55" ry="5.23" fill="none" stroke="#231f20" stroke-width="2.41"/>
<ellipse cx="855.95" cy="1157.85" rx="4.55" ry="5.23" fill="none" stroke="#231f20" stroke-width="2.41"/>
<path d="M839.62 1164.7L841.53 1164.7L856.22 1137.3L854.3 1137.3Z"/>
<text x="885.83" y="1164.5" font-size="38.52" textLength="85.83" lengthAdjust="spacingAndGlyphs" stroke="#231f20" stroke-width="0.4">0mcg</text>
<text x="1058.14" y="1164.5" font-size="38.52" textLength="19.41" lengthAdjust="spacingAndGlyphs" stroke="#231f20" stroke-width="0.4">0</text>
<ellipse cx="1084.88" cy="1144.15" rx="4.55" ry="5.23" fill="none" stroke="#231f20" stroke-width="2.41"/>
<ellipse cx="1101.05" cy="1157.85" rx="4.55" ry="5.23" fill="none" stroke="#231f20" stroke-width="2.41"/>
<path d="M1084.72 1164.7L1086.63 1164.7L1101.32 1137.3L1099.4 1137.3Z"/>
<text x="336.44" y="1213.8" font-size="38.66" textLength="125.25" lengthAdjust="spacingAndGlyphs" stroke="#231f20" stroke-width="0.4">Calcium</text>
<text x="641.22" y="1212.5" font-size="38.52" textLength="68.55" lengthAdjust="spacingAndGlyphs" stroke="#231f20" stroke-width="0.4">0mg</text>
<text x="813.14" y="1212.5" font-size="38.52" textLength="19.3" lengthAdjust="spacingAndGlyphs" stroke="#231f20" stroke-width="0.4">0</text>
<ellipse cx="839.78" cy="1192.15" rx="4.55" ry="5.23" fill="none" stroke="#231f20" stroke-width="2.41"/>
<ellipse cx="855.95" cy="1205.85" rx="4.55" ry="5.23" fill="none" stroke="#231f20" stroke-width="2.41"/>
<path d="M839.62 1212.7L841.53 1212.7L856.22 1185.3L854.3 1185.3Z"/>
<text x="885.41" y="1212.5" font-size="38.52" textLength="87.55" lengthAdjust="spacingAndGlyphs" stroke="#231f20" stroke-width="0.4">70mg</text>
<text x="1057.66" y="1212.5" font-size="38.52" textLength="20.11" lengthAdjust="spacingAndGlyphs" stroke="#231f20" stroke-width="0.4">6</text>
<ellipse cx="1084.88" cy="1192.15" rx="4.55" ry="5.23" fill="none" stroke="#231f20" stroke-width="2.41"/>
<ellipse cx="1101.05" cy="1205.85" rx="4.55" ry="5.23" fill="none" stroke="#231f20" stroke-width="2.41"/>
<path d="M1084.72 1212.7L1086.63 1212.7L1101.32 1185.3L1099.4 1185.3Z"/>
<text x="335.55" y="1261.4" font-size="38.66" textLength="58.76" lengthAdjust="spacingAndGlyphs" stroke="#231f20" stroke-width="0.4">Iron</text>
<path d="M654.24 1233.8L654.24 1260.7L651.12 1260.7L651.12 1240.79L645.1 1240.79L645.1 1238.64C648.71 1238.64 650.82 1236.71 651.12 1233.8Z"/>
<text x="661.17" y="1260.5" font-size="38.52" textLength="76.65" lengthAdjust="spacingAndGlyphs" stroke="#231f20" stroke-width="0.4">.8mg</text>
<path d="M806.19 1233.8L806.19 1260.7L803.07 1260.7L803.07 1240.79L797 1240.79L797 1238.64C800.64 1238.64 802.76 1236.71 803.07 1233.8Z"/>
<text x="813.16" y="1260.5" font-size="38.52" textLength="19.28" lengthAdjust="spacingAndGlyphs" stroke="#231f20" stroke-width="0.4">0</text>
<ellipse cx="839.78" cy="1240.15" rx="4.55" ry="5.23" fill="none" stroke="#231f20" stroke-width="2.41"/>
<ellipse cx="855.95" cy="1253.85" rx="4.55" ry="5.23" fill="none" stroke="#231f20" stroke-width="2.41"/>
<path d="M839.62 1260.7L841.53 1260.7L856.22 1233.3L854.3 1233.3Z"/>
<text x="885.7" y="1260.5" font-size="38.52" textLength="97.15" lengthAdjust="spacingAndGlyphs" stroke="#231f20" stroke-width="0.4">5.8mg</text>
<text x="1039.5" y="1260.5" font-size="38.52" textLength="38.02" lengthAdjust="spacingAndGlyphs" stroke="#231f20" stroke-width="0.4">30</text>
<ellipse cx="1084.88" cy="1240.15" rx="4.55" ry="5.23" fill="none" stroke="#231f20" stroke-width="2.41"/>
<ellipse cx="1101.05" cy="1253.85" rx="4.55" ry="5.23" fill="none" stroke="#231f20" stroke-width="2.41"/>
<path d="M1084.72 1260.7L1086.63 1260.7L1101.32 1233.3L1099.4 1233.3Z"/>
<text x="334.89" y="1310" font-size="38.66" textLength="159.66" lengthAdjust="spacingAndGlyphs" stroke="#231f20" stroke-width="0.4">Potassium</text>
<text x="641.22" y="1309" font-size="38.52" textLength="68.55" lengthAdjust="spacingAndGlyphs" stroke="#231f20" stroke-width="0.4">0mg</text>
<text x="813.14" y="1309" font-size="38.52" textLength="19.3" lengthAdjust="spacingAndGlyphs" stroke="#231f20" stroke-width="0.4">0</text>
<ellipse cx="839.78" cy="1288.65" rx="4.55" ry="5.23" fill="none" stroke="#231f20" stroke-width="2.41"/>
<ellipse cx="855.95" cy="1302.35" rx="4.55" ry="5.23" fill="none" stroke="#231f20" stroke-width="2.41"/>
<path d="M839.62 1309.2L841.53 1309.2L856.22 1281.8L854.3 1281.8Z"/>
<path d="M898.82 1282.3L898.82 1309.2L895.7 1309.2L895.7 1289.29L889.6 1289.29L889.6 1287.14C893.26 1287.14 895.39 1285.21 895.7 1282.3Z"/>
<text x="905.82" y="1309" font-size="38.52" textLength="87.03" lengthAdjust="spacingAndGlyphs" stroke="#231f20" stroke-width="0.4">70mg</text>
<text x="1058.74" y="1309" font-size="38.52" textLength="18.42" lengthAdjust="spacingAndGlyphs" stroke="#231f20" stroke-width="0.4">4</text>
<ellipse cx="1084.88" cy="1288.65" rx="4.55" ry="5.23" fill="none" stroke="#231f20" stroke-width="2.41"/>
<ellipse cx="1101.05" cy="1302.35" rx="4.55" ry="5.23" fill="none" stroke="#231f20" stroke-width="2.41"/>
<path d="M1084.72 1309.2L1086.63 1309.2L1101.32 1281.8L1099.4 1281.8Z"/>
<text x="338.24" y="1367.3" font-size="27.76" textLength="6.32" lengthAdjust="spacingAndGlyphs" stroke="#231f20" stroke-width="0.4">*</text>
<text x="351.05" y="1366.2" font-size="27.76" textLength="34.52" lengthAdjust="spacingAndGlyphs" stroke="#231f20" stroke-width="0.4">The</text>
<ellipse cx="395.09" cy="1351.78" rx="2.38" ry="3.72" fill="none" stroke="#231f20" stroke-width="1.72"/>
<ellipse cx="404.18" cy="1361.53" rx="2.38" ry="3.72" fill="none" stroke="#231f20" stroke-width="1.72"/>
<path d="M394.85 1366.4L396.22 1366.4L404.48 1346.9L403.11 1346.9Z"/>
<text x="414.52" y="1366.2" font-size="27.76" textLength="44.53" lengthAdjust="spacingAndGlyphs" stroke="#231f20" stroke-width="0.4">Daily</text>
<text x="464.61" y="1366.2" font-size="27.76" textLength="51.24" lengthAdjust="spacingAndGlyphs" stroke="#231f20" stroke-width="0.4">Value</text>
<text x="521.42" y="1366.2" font-size="27.76" textLength="41.17" lengthAdjust="spacingAndGlyphs" stroke="#231f20" stroke-width="0.4">(DV)</text>
<text x="568.15" y="1366.2" font-size="27.76" textLength="35.63" lengthAdjust="spacingAndGlyphs" stroke="#231f20" stroke-width="0.4">tells</text>
<text x="609.35" y="1366.2" font-size="27.76" textLength="32.3" lengthAdjust="spacingAndGlyphs" stroke="#231f20" stroke-width="0.4">you</text>
<text x="647.21" y="1366.2" font-size="27.76" textLength="36.75" lengthAdjust="spacingAndGlyphs" stroke="#231f20" stroke-width="0.4">how</text>
<text x="689.53" y="1366.2" font-size="27.76" textLength="48.99" lengthAdjust="spacingAndGlyphs" stroke="#231f20" stroke-width="0.4">much</text>
<text x="744.09" y="1366.2" font-size="27.76" textLength="11.14" lengthAdjust="spacingAndGlyphs" stroke="#231f20" stroke-width="0.4">a</text>
<text x="760.79" y="1366.2" font-size="27.76" textLength="66.82" lengthAdjust="spacingAndGlyphs" stroke="#231f20" stroke-width="0.4">nutrient</text>
<text x="833.18" y="1366.2" font-size="27.76" textLength="15.59" lengthAdjust="spacingAndGlyphs" stroke="#231f20" stroke-width="0.4">in</text>
<text x="854.34" y="1366.2" font-size="27.76" textLength="11.14" lengthAdjust="spacingAndGlyphs" stroke="#231f20" stroke-width="0.4">a</text>
<text x="871.05" y="1366.2" font-size="27.76" textLength="64.58" lengthAdjust="spacingAndGlyphs" stroke="#231f20" stroke-width="0.4">serving</text>
<text x="941.2" y="1366.2" font-size="27.76" textLength="16.71" lengthAdjust="spacingAndGlyphs" stroke="#231f20" stroke-width="0.4">of</text>
<text x="963.47" y="1366.2" font-size="27.76" textLength="38.99" lengthAdjust="spacingAndGlyphs" stroke="#231f20" stroke-width="0.4">food</text>
<text x="1008.03" y="1366.2" font-size="27.76" textLength="98" lengthAdjust="spacingAndGlyphs" stroke="#231f20" stroke-width="0.4">contributes</text>
<text x="350.4" y="1399.6" font-size="27.76" textLength="16.76" lengthAdjust="spacingAndGlyphs" stroke="#231f20" stroke-width="0.4">to</text>
<text x="372.74" y="1399.6" font-size="27.76" textLength="11.18" lengthAdjust="spacingAndGlyphs" stroke="#231f20" stroke-width="0.4">a</text>
<text x="389.5" y="1399.6" font-size="27.76" textLength="41.33" lengthAdjust="spacingAndGlyphs" stroke="#231f20" stroke-width="0.4">daily</text>
<text x="436.42" y="1399.6" font-size="27.76" textLength="37.99" lengthAdjust="spacingAndGlyphs" stroke="#231f20" stroke-width="0.4">diet.</text>
<text x="479.99" y="1399.6" font-size="27.76" textLength="50.29" lengthAdjust="spacingAndGlyphs" stroke="#231f20" stroke-width="0.4">2,000</text>
<text x="535.87" y="1399.6" font-size="27.76" textLength="69.25" lengthAdjust="spacingAndGlyphs" stroke="#231f20" stroke-width="0.4">calories</text>
<text x="610.7" y="1399.6" font-size="27.76" textLength="11.18" lengthAdjust="spacingAndGlyphs" stroke="#231f20" stroke-width="0.4">a</text>
<text x="627.46" y="1399.6" font-size="27.76" textLength="32.4" lengthAdjust="spacingAndGlyphs" stroke="#231f20" stroke-width="0.4">day</text>
<text x="665.45" y="1399.6" font-size="27.76" textLength="14.51" lengthAdjust="spacingAndGlyphs" stroke="#231f20" stroke-width="0.4">is</text>
<text x="685.55" y="1399.6" font-size="27.76" textLength="43.58" lengthAdjust="spacingAndGlyphs" stroke="#231f20" stroke-width="0.4">used</text>
<text x="734.71" y="1399.6" font-size="27.76" textLength="23.45" lengthAdjust="spacingAndGlyphs" stroke="#231f20" stroke-width="0.4">for</text>
<text x="763.75" y="1399.6" font-size="27.76" textLength="67.04" lengthAdjust="spacingAndGlyphs" stroke="#231f20" stroke-width="0.4">general</text>
<text x="836.37" y="1399.6" font-size="27.76" textLength="71.5" lengthAdjust="spacingAndGlyphs" stroke="#231f20" stroke-width="0.4">nutrition</text>
<text x="913.46" y="1399.6" font-size="27.76" textLength="63.68" lengthAdjust="spacingAndGlyphs" stroke="#231f20" stroke-width="0.4">advice.</text>
</g></svg></body></html>
